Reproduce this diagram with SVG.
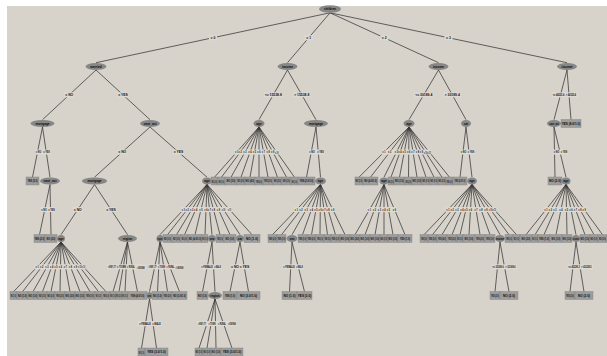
<svg xmlns="http://www.w3.org/2000/svg" width="607" height="356" viewBox="0 0 607 356">
<style>
  .bg{fill:#d7d2ca}
  .e path{fill:none;stroke:#363636;stroke-width:0.75}
  .lb{fill:#dddad3}
  .lt{font-family:"Liberation Sans",Arial,sans-serif;font-size:3.4px;font-weight:bold;text-anchor:middle;fill:#111}
  .nd ellipse{fill:#878787}
  .nd rect{fill:#9d9d9d;stroke:#828282;stroke-width:0.4}
  .nd text{font-family:"Liberation Sans",Arial,sans-serif;font-size:3.1px;font-weight:bold;text-anchor:middle;fill:#0a0a0a}
  .nd text,.lt{transform-box:fill-box;transform-origin:center}
  /* narrow boxes: smaller type, stretched back to the common cap height */
  text.s23{font-size:2.3px;transform:scaleY(1.2)}
  text.s18{font-size:1.8px;transform:scaleY(1.5)}
  text.s14{font-size:1.4px;transform:scaleY(1.9)}
  text.s12{font-size:1.2px;transform:scaleY(2.2)}
</style>
<rect width="607" height="356" fill="#ffffff"/>
<rect class="bg" x="7" y="6" width="600" height="350"/>

<!-- connectors: edge lines, then their value labels -->
<g id="connectors" class="e">
  <path d="M330 12.8L96 62.7M330 12.8L287.5 62.7M330 12.8L438.5 62.7M330 12.8L567 62.7"/>
  <path d="M96 70L42.5 119.7M96 70L150 119.7M287.5 70L259 119.7M287.5 70L316 119.7M438.5 70L409 119.7M438.5 70L466 119.7M567 70L554 119.7M567 70L571 119.7"/>
  <path d="M42.5 127L32.5 177.2M42.5 127L50 177.2M150 127L94.5 177.2M150 127L207 177.2M316 127L306.5 177.2M316 127L320.5 177.2M466 127L460 177.2M466 127L472 177.2M554 127L555 177.2M554 127L566 177.2"/>
  <path d="M259 127L214.5 177.2M259 127L221.5 177.2M259 127L231 177.2M259 127L241 177.2M259 127L250 177.2M259 127L259 177.2M259 127L268 177.2M259 127L277.5 177.2M259 127L286.5 177.2M259 127L294.5 177.2"/>
  <path d="M409 127L359 177.2M409 127L370.5 177.2M409 127L384 177.2M409 127L391 177.2M409 127L399.5 177.2M409 127L408.5 177.2M409 127L417 177.2M409 127L426 177.2M409 127L434 177.2M409 127L442 177.2M409 127L449.5 177.2"/>
  <path d="M50 184.5L39.5 234.7M50 184.5L51 234.7M94.5 184.5L61 234.7M94.5 184.5L127.5 234.7"/>
  <path d="M207 184.5L160 234.7M207 184.5L167.5 234.7M207 184.5L176.5 234.7M207 184.5L184.5 234.7M207 184.5L195 234.7M207 184.5L205 234.7M207 184.5L212 234.7M207 184.5L220 234.7M207 184.5L230 234.7M207 184.5L240 234.7M207 184.5L252 234.7"/>
  <path d="M320.5 184.5L272.5 234.7M320.5 184.5L281.5 234.7M320.5 184.5L292 234.7M320.5 184.5L302.5 234.7M320.5 184.5L311.5 234.7M320.5 184.5L320 234.7M320.5 184.5L327.5 234.7M320.5 184.5L335.5 234.7M320.5 184.5L345 234.7"/>
  <path d="M384 184.5L355 234.7M384 184.5L365 234.7M384 184.5L375 234.7M384 184.5L384 234.7M384 184.5L393 234.7M384 184.5L405 234.7"/>
  <path d="M472 184.5L424 234.7M472 184.5L432.5 234.7M472 184.5L442 234.7M472 184.5L452 234.7M472 184.5L460 234.7M472 184.5L469 234.7M472 184.5L480 234.7M472 184.5L490 234.7M472 184.5L500 234.7M472 184.5L509 234.7M472 184.5L516.5 234.7"/>
  <path d="M566 184.5L526 234.7M566 184.5L535 234.7M566 184.5L544 234.7M566 184.5L556 234.7M566 184.5L567 234.7M566 184.5L576 234.7M566 184.5L585 234.7M566 184.5L594 234.7M566 184.5L602.5 234.7"/>
  <path d="M61 242L13.5 291.7M61 242L22.5 291.7M61 242L33 291.7M61 242L42.5 291.7M61 242L51 291.7M61 242L60 291.7M61 242L70 291.7M61 242L80 291.7M61 242L90 291.7M61 242L98.5 291.7M61 242L106 291.7"/>
  <path d="M127.5 242L113 291.7M127.5 242L119 291.7M127.5 242L125 291.7M127.5 242L137.5 291.7M160 242L149.5 291.7M160 242L157.5 291.7M160 242L167.5 291.7M160 242L179.5 291.7"/>
  <path d="M212 242L202.5 291.7M212 242L215 291.7M240 242L230 291.7M240 242L248.5 291.7M292 242L289.5 291.7M292 242L304.5 291.7M500 242L495 291.7M500 242L509 291.7M576 242L570 291.7M576 242L584 291.7"/>
  <path d="M149.5 299L141.5 348.2M149.5 299L156.5 348.2M215 299L199 348.2M215 299L207 348.2M215 299L216 348.2M215 299L232 348.2"/>

  <g id="labels">
    <!-- level 1 -->
    <rect class="lb" x="209" y="35.25" width="8" height="5"/><text class="lt" x="213" y="39">= 0</text>
    <rect class="lb" x="304.75" y="35.25" width="8" height="5"/><text class="lt" x="308.75" y="39">= 1</text>
    <rect class="lb" x="380.25" y="35.25" width="8" height="5"/><text class="lt" x="384.25" y="39">= 2</text>
    <rect class="lb" x="444.5" y="35.25" width="8" height="5"/><text class="lt" x="448.5" y="39">= 3</text>
    <!-- level 2 -->
    <rect class="lb" x="64.25" y="92.35" width="10" height="5"/><text class="lt" x="69.25" y="96.1">= NO</text>
    <rect class="lb" x="117.5" y="92.35" width="11" height="5"/><text class="lt" x="123" y="96.1">= YES</text>
    <rect class="lb" x="263.75" y="92.35" width="19" height="5"/><text class="lt" x="273.25" y="96.1">&lt;= 15538.8</text>
    <rect class="lb" x="293.25" y="92.35" width="17" height="5"/><text class="lt" x="301.75" y="96.1">&gt; 15538.8</text>
    <rect class="lb" x="414.25" y="92.35" width="19" height="5"/><text class="lt" x="423.75" y="96.1">&lt;= 30189.4</text>
    <rect class="lb" x="443.75" y="92.35" width="17" height="5"/><text class="lt" x="452.25" y="96.1">&gt; 30189.4</text>
    <rect class="lb" x="552" y="92.35" width="26" height="5"/>
    <text class="lt s23" x="558.5" y="96.1">&lt;= 44525.4</text><text class="lt s23" x="571" y="96.1">&gt; 44525.4</text>
    <!-- level 3 -->
    <rect class="lb" x="35" y="149.6" width="15.5" height="5"/>
    <text class="lt s23" x="38.5" y="153.3">= NO</text><text class="lt s23" x="46.5" y="153.3">= YES</text>
    <rect class="lb" x="117.25" y="149.6" width="10" height="5"/><text class="lt" x="122.25" y="153.3">= NO</text>
    <rect class="lb" x="173" y="149.6" width="11" height="5"/><text class="lt" x="178.5" y="153.3">= YES</text>
    <rect class="lb" x="234" y="149.6" width="45" height="5"/>
    <text class="lt s23" x="236.75" y="153.3">= 1</text><text class="lt s23" x="240.25" y="153.3">= 2</text><text class="lt s23" x="245" y="153.3">= 3</text><text class="lt s23" x="250" y="153.3">= 4</text><text class="lt s23" x="254.5" y="153.3">= 5</text><text class="lt s23" x="259" y="153.3">= 6</text><text class="lt s23" x="263.5" y="153.3">= 7</text><text class="lt s23" x="268.25" y="153.3">= 8</text><text class="lt s23" x="272.75" y="153.3">= 9</text><text class="lt s18" x="276.75" y="153.3">= 10</text>
    <rect class="lb" x="308.5" y="149.6" width="16" height="5"/>
    <text class="lt s23" x="312" y="153.3">= NO</text><text class="lt s23" x="320.5" y="153.3">= YES</text>
    <rect class="lb" x="381.5" y="149.6" width="50" height="5"/>
    <text class="lt s23" x="384" y="153.3">= 1</text><text class="lt s23" x="389.75" y="153.3">= 2</text><text class="lt s23" x="396.5" y="153.3">= 3</text><text class="lt s23" x="400" y="153.3">= 4</text><text class="lt s23" x="404.25" y="153.3">= 5</text><text class="lt s23" x="408.75" y="153.3">= 6</text><text class="lt s23" x="413" y="153.3">= 7</text><text class="lt s23" x="417.5" y="153.3">= 8</text><text class="lt s23" x="421.5" y="153.3">= 9</text><text class="lt s18" x="425.5" y="153.3">= 10</text><text class="lt s18" x="429.25" y="153.3">= 11</text>
    <rect class="lb" x="460" y="149.6" width="15" height="5"/>
    <text class="lt s23" x="463.5" y="153.3">= NO</text><text class="lt s23" x="471" y="153.3">= YES</text>
    <rect class="lb" x="553" y="149.6" width="15" height="5"/>
    <text class="lt s23" x="556.5" y="153.3">= NO</text><text class="lt s23" x="564" y="153.3">= YES</text>
    <!-- level 4 -->
    <rect class="lb" x="40.5" y="207.1" width="15" height="5"/>
    <text class="lt s23" x="44" y="210.8">= NO</text><text class="lt s23" x="51.5" y="210.8">= YES</text>
    <rect class="lb" x="72.75" y="207.1" width="10" height="5"/><text class="lt" x="77.75" y="210.8">= NO</text>
    <rect class="lb" x="105.5" y="207.1" width="11" height="5"/><text class="lt" x="111" y="210.8">= YES</text>
    <rect class="lb" x="181" y="207.1" width="51" height="5"/>
    <text class="lt s23" x="183.5" y="210.8">= 1</text><text class="lt s23" x="187.25" y="210.8">= 2</text><text class="lt s23" x="191.75" y="210.8">= 3</text><text class="lt s23" x="195.75" y="210.8">= 4</text><text class="lt s23" x="201" y="210.8">= 5</text><text class="lt s23" x="206" y="210.8">= 6</text><text class="lt s23" x="209.5" y="210.8">= 7</text><text class="lt s23" x="213.5" y="210.8">= 8</text><text class="lt s23" x="218.5" y="210.8">= 9</text><text class="lt s18" x="223.5" y="210.8">= 10</text><text class="lt s18" x="229.5" y="210.8">= 11</text>
    <rect class="lb" x="294" y="207.1" width="41" height="5"/>
    <text class="lt s23" x="296.5" y="210.8">= 1</text><text class="lt s23" x="301" y="210.8">= 2</text><text class="lt s23" x="306.25" y="210.8">= 3</text><text class="lt s23" x="311.5" y="210.8">= 4</text><text class="lt s23" x="316" y="210.8">= 5</text><text class="lt s23" x="320.25" y="210.8">= 6</text><text class="lt s23" x="324" y="210.8">= 7</text><text class="lt s23" x="328" y="210.8">= 8</text><text class="lt s23" x="332.75" y="210.8">= 9</text>
    <rect class="lb" x="367" y="207.1" width="30" height="5"/>
    <text class="lt s23" x="369.5" y="210.8">= 1</text><text class="lt s23" x="374.5" y="210.8">= 2</text><text class="lt s23" x="379.5" y="210.8">= 3</text><text class="lt s23" x="384" y="210.8">= 4</text><text class="lt s23" x="388.5" y="210.8">= 5</text><text class="lt s23" x="394.5" y="210.8">= 6</text>
    <rect class="lb" x="445.5" y="207.1" width="51" height="5"/>
    <text class="lt s23" x="448" y="210.8">= 1</text><text class="lt s23" x="452.25" y="210.8">= 2</text><text class="lt s23" x="457" y="210.8">= 3</text><text class="lt s23" x="462" y="210.8">= 4</text><text class="lt s23" x="466" y="210.8">= 5</text><text class="lt s23" x="470.5" y="210.8">= 6</text><text class="lt s23" x="476" y="210.8">= 7</text><text class="lt s23" x="481" y="210.8">= 8</text><text class="lt s23" x="486" y="210.8">= 9</text><text class="lt s18" x="490.5" y="210.8">= 10</text><text class="lt s18" x="494.25" y="210.8">= 11</text>
    <rect class="lb" x="543.5" y="207.1" width="43" height="5"/>
    <text class="lt s23" x="546" y="210.8">= 1</text><text class="lt s23" x="550.5" y="210.8">= 2</text><text class="lt s23" x="555" y="210.8">= 3</text><text class="lt s23" x="561" y="210.8">= 4</text><text class="lt s23" x="566.5" y="210.8">= 5</text><text class="lt s23" x="571" y="210.8">= 6</text><text class="lt s23" x="575.5" y="210.8">= 7</text><text class="lt s23" x="580" y="210.8">= 8</text><text class="lt s23" x="584.25" y="210.8">= 9</text>
    <!-- level 5 -->
    <rect class="lb" x="34.5" y="264.35" width="51" height="5"/>
    <text class="lt s23" x="37.25" y="268.1">= 1</text><text class="lt s23" x="41.75" y="268.1">= 2</text><text class="lt s23" x="47" y="268.1">= 3</text><text class="lt s23" x="51.75" y="268.1">= 4</text><text class="lt s23" x="56" y="268.1">= 5</text><text class="lt s23" x="60.5" y="268.1">= 6</text><text class="lt s23" x="65.5" y="268.1">= 7</text><text class="lt s23" x="70.5" y="268.1">= 8</text><text class="lt s23" x="75.5" y="268.1">= 9</text><text class="lt s18" x="79.75" y="268.1">= 10</text><text class="lt s18" x="83.5" y="268.1">= 11</text>
    <rect class="lb" x="107" y="264.35" width="39" height="5"/>
    <text class="lt s12" x="112" y="268.1">= INNER_CITY</text><text class="lt s23" x="121.5" y="268.1">= TOWN</text><text class="lt s18" x="131" y="268.1">= RURAL</text><text class="lt s12" x="140.8" y="268.1">= SUBURBAN</text>
    <rect class="lb" x="147.8" y="264.35" width="36.5" height="5"/>
    <text class="lt s12" x="152.5" y="268.1">= INNER_CITY</text><text class="lt s18" x="161.5" y="268.1">= TOWN</text><text class="lt s18" x="170.5" y="268.1">= RURAL</text><text class="lt s12" x="179.5" y="268.1">= SUBURBAN</text>
    <rect class="lb" x="200.5" y="264.35" width="21.5" height="5"/>
    <text class="lt s23" x="207" y="268.1">= FEMALE</text><text class="lt s18" x="217.6" y="268.1">= MALE</text>
    <rect class="lb" x="230.5" y="264.35" width="19" height="5"/>
    <text class="lt" x="235" y="268.1">= NO</text><text class="lt" x="244.5" y="268.1">= YES</text>
    <rect class="lb" x="282.5" y="264.35" width="21.5" height="5"/>
    <text class="lt s23" x="289" y="268.1">= FEMALE</text><text class="lt s18" x="299.6" y="268.1">= MALE</text>
    <rect class="lb" x="491.5" y="264.35" width="25.5" height="5"/>
    <text class="lt s23" x="498" y="268.1">&lt;= 32369.6</text><text class="lt s23" x="510.5" y="268.1">&gt; 32369.6</text>
    <rect class="lb" x="567.5" y="264.35" width="25.5" height="5"/>
    <text class="lt s23" x="574" y="268.1">&lt;= 43228.2</text><text class="lt s23" x="586.5" y="268.1">&gt; 43228.2</text>
    <!-- level 6 -->
    <rect class="lb" x="138" y="321.1" width="23.5" height="5"/>
    <text class="lt s23" x="145" y="324.8">= FEMALE</text><text class="lt s23" x="156.5" y="324.8">= MALE</text>
    <rect class="lb" x="197" y="321.1" width="40" height="5"/>
    <text class="lt s12" x="202" y="324.8">= INNER_CITY</text><text class="lt s18" x="212" y="324.8">= TOWN</text><text class="lt s18" x="222" y="324.8">= RURAL</text><text class="lt s12" x="232" y="324.8">= SUBURBAN</text>
  </g>
</g>

<!-- tree nodes: ellipses are tests, boxes are leaves -->
<g id="nodes" class="nd">
  <g id="n0"><ellipse cx="330" cy="9" rx="11" ry="3.8"/><text x="330" y="10.1">children</text></g>

  <g id="n1"><ellipse cx="96" cy="66.5" rx="10.5" ry="3.5"/><text x="96" y="67.6">married</text></g>
  <g id="n2"><ellipse cx="287.5" cy="66.5" rx="10" ry="3.5"/><text x="287.5" y="67.6">income</text></g>
  <g id="n3"><ellipse cx="438.5" cy="66.5" rx="10" ry="3.5"/><text x="438.5" y="67.6">income</text></g>
  <g id="n4"><ellipse cx="567" cy="66.5" rx="10" ry="3.5"/><text x="567" y="67.6">income</text></g>

  <g id="n5"><ellipse cx="42.5" cy="123.5" rx="12" ry="3.5"/><text x="42.5" y="124.6">mortgage</text></g>
  <g id="n6"><ellipse cx="150" cy="123.5" rx="10" ry="3.5"/><text x="150" y="124.6">save_act</text></g>
  <g id="n7"><ellipse cx="259" cy="123.5" rx="5.5" ry="3.5"/><text x="259" y="124.6">age</text></g>
  <g id="n8"><ellipse cx="316" cy="123.5" rx="12" ry="3.5"/><text x="316" y="124.6">mortgage</text></g>
  <g id="n9"><ellipse cx="409" cy="123.5" rx="5.5" ry="3.5"/><text x="409" y="124.6">age</text></g>
  <g id="n10"><ellipse cx="466" cy="123.5" rx="5" ry="3.5"/><text x="466" y="124.6">car</text></g>
  <g id="n11"><ellipse cx="554" cy="123.5" rx="7" ry="3.5"/><text class="s23" x="554" y="124.6">save_act</text></g>
  <g id="n12"><rect x="561" y="119.5" width="20" height="8"/><text x="571" y="124.6">YES (8.0/1.0)</text></g>

  <!-- level 3 -->
  <g id="n13a"><rect x="26" y="177" width="13" height="8"/><text class="s23" x="32.5" y="182.1">YES (5.0)</text></g>
  <g id="n13"><ellipse cx="50" cy="181" rx="10" ry="3.5"/><text x="50" y="182.1">save_act</text></g>
  <g id="n14"><ellipse cx="94.5" cy="181" rx="12.5" ry="3.5"/><text x="94.5" y="182.1">mortgage</text></g>
  <g id="n15"><ellipse cx="207" cy="181" rx="5" ry="3.5"/><text x="207" y="182.1">age</text></g>
  <g id="n7a"><rect x="211" y="177" width="7" height="8"/><text class="s14" x="214.5" y="182.1">NO (3.0)</text></g>
  <g id="n7b"><rect x="218" y="177" width="7" height="8"/><text class="s14" x="221.5" y="182.1">NO (1.0)</text></g>
  <g id="n7c"><rect x="225" y="177" width="12" height="8"/><text class="s23" x="231" y="182.1">NO (3.0)</text></g>
  <g id="n7d"><rect x="237" y="177" width="8" height="8"/><text class="s18" x="241" y="182.1">NO (2.0)</text></g>
  <g id="n7e"><rect x="245" y="177" width="10" height="8"/><text class="s23" x="250" y="182.1">NO (4.0)</text></g>
  <g id="n7f"><rect x="255" y="177" width="8" height="8"/><text class="s14" x="259" y="182.1">YES (2.0)</text></g>
  <g id="n7g"><rect x="263" y="177" width="10" height="8"/><text class="s18" x="268" y="182.1">YES (3.0)</text></g>
  <g id="n7h"><rect x="273" y="177" width="9" height="8"/><text class="s18" x="277.5" y="182.1">NO (2.0)</text></g>
  <g id="n7i"><rect x="282" y="177" width="9" height="8"/><text class="s18" x="286.5" y="182.1">NO (1.0)</text></g>
  <g id="n7j"><rect x="291" y="177" width="7" height="8"/><text class="s14" x="294.5" y="182.1">NO (1.0)</text></g>
  <g id="n8a"><rect x="298" y="177" width="17" height="8"/><text class="s23" x="306.5" y="182.1">YES (2.0/1.0)</text></g>
  <g id="n16"><ellipse cx="320.5" cy="181" rx="5.5" ry="3.5"/><text x="320.5" y="182.1">age</text></g>
  <g id="n9a"><rect x="355" y="177" width="8" height="8"/><text class="s18" x="359" y="182.1">NO (1.0)</text></g>
  <g id="n9b"><rect x="363" y="177" width="15" height="8"/><text class="s23" x="370.5" y="182.1">NO (4.0/1.0)</text></g>
  <g id="n17"><ellipse cx="384" cy="181" rx="4.5" ry="3.5"/><text x="384" y="182.1">age</text></g>
  <g id="n9c"><rect x="388" y="177" width="6" height="8"/><text class="s14" x="391" y="182.1">NO (2.0)</text></g>
  <g id="n9d"><rect x="394" y="177" width="11" height="8"/><text class="s23" x="399.5" y="182.1">NO (1.0)</text></g>
  <g id="n9e"><rect x="405" y="177" width="7" height="8"/><text class="s14" x="408.5" y="182.1">NO (2.0)</text></g>
  <g id="n9f"><rect x="412" y="177" width="10" height="8"/><text class="s23" x="417" y="182.1">NO (1.0)</text></g>
  <g id="n9g"><rect x="422" y="177" width="8" height="8"/><text class="s18" x="426" y="182.1">NO (1.0)</text></g>
  <g id="n9h"><rect x="430" y="177" width="8" height="8"/><text class="s18" x="434" y="182.1">NO (1.0)</text></g>
  <g id="n9i"><rect x="438" y="177" width="8" height="8"/><text class="s18" x="442" y="182.1">NO (3.0)</text></g>
  <g id="n9j"><rect x="446" y="177" width="7" height="8"/><text class="s14" x="449.5" y="182.1">YES (1.0)</text></g>
  <g id="n10a"><rect x="453" y="177" width="14" height="8"/><text class="s18" x="460" y="182.1">YES (2.0/1.0)</text></g>
  <g id="n18"><ellipse cx="472" cy="181" rx="5" ry="3.5"/><text x="472" y="182.1">age</text></g>
  <g id="n11a"><rect x="548" y="177" width="14" height="8"/><text x="555" y="182.1">NO (2.0)</text></g>
  <g id="n19"><ellipse cx="566" cy="181" rx="4.5" ry="3.5"/><text x="566" y="182.1">age</text></g>

  <!-- level 4 -->
  <g id="n13b"><rect x="34" y="234.5" width="11" height="8"/><text class="s23" x="39.5" y="239.6">YES (2.0)</text></g>
  <g id="n13c"><rect x="45" y="234.5" width="12" height="8"/><text class="s23" x="51" y="239.6">NO (2.0)</text></g>
  <g id="n20"><ellipse cx="61" cy="238.5" rx="4" ry="3.5"/><text x="61" y="239.6">age</text></g>
  <g id="n21"><ellipse cx="127.5" cy="238.5" rx="9.5" ry="3.5"/><text x="127.5" y="239.6">region</text></g>
  <g id="n22"><ellipse cx="160" cy="238.5" rx="3.5" ry="3.5"/><text class="s18" x="160" y="239.6">region</text></g>
  <g id="n15a"><rect x="163" y="234.5" width="9" height="8"/><text class="s18" x="167.5" y="239.6">NO (1.0)</text></g>
  <g id="n15b"><rect x="172" y="234.5" width="9" height="8"/><text class="s18" x="176.5" y="239.6">NO (1.0)</text></g>
  <g id="n15c"><rect x="181" y="234.5" width="7" height="8"/><text class="s14" x="184.5" y="239.6">NO (2.0)</text></g>
  <g id="n15d"><rect x="188" y="234.5" width="14" height="8"/><text class="s23" x="195" y="239.6">NO (4.0/1.0)</text></g>
  <g id="n15e"><rect x="202" y="234.5" width="6" height="8"/><text class="s14" x="205" y="239.6">NO (1.0)</text></g>
  <g id="n23"><ellipse cx="212" cy="238.5" rx="4" ry="3.5"/><text x="212" y="239.6">sex</text></g>
  <g id="n15f"><rect x="216" y="234.5" width="8" height="8"/><text class="s14" x="220" y="239.6">YES (1.0)</text></g>
  <g id="n15g"><rect x="224" y="234.5" width="12" height="8"/><text class="s23" x="230" y="239.6">NO (1.0)</text></g>
  <g id="n24"><ellipse cx="240" cy="238.5" rx="4" ry="3.5"/><text x="240" y="239.6">car</text></g>
  <g id="n15h"><rect x="244" y="234.5" width="16" height="8"/><text x="252" y="239.6">NO (1.0)</text></g>
  <g id="n16a"><rect x="268" y="234.5" width="9" height="8"/><text class="s18" x="272.5" y="239.6">YES (2.0)</text></g>
  <g id="n16b"><rect x="277" y="234.5" width="9" height="8"/><text class="s18" x="281.5" y="239.6">YES (1.0)</text></g>
  <g id="n25"><ellipse cx="292" cy="238.5" rx="5.5" ry="3.5"/><text x="292" y="239.6">sex</text></g>
  <g id="n16c"><rect x="298" y="234.5" width="9" height="8"/><text class="s18" x="302.5" y="239.6">YES (1.0)</text></g>
  <g id="n16d"><rect x="307" y="234.5" width="9" height="8"/><text class="s18" x="311.5" y="239.6">YES (2.0)</text></g>
  <g id="n16e"><rect x="316" y="234.5" width="8" height="8"/><text class="s14" x="320" y="239.6">YES (1.0)</text></g>
  <g id="n16f"><rect x="324" y="234.5" width="7" height="8"/><text class="s14" x="327.5" y="239.6">YES (3.0)</text></g>
  <g id="n16g"><rect x="331" y="234.5" width="9" height="8"/><text class="s18" x="335.5" y="239.6">YES (1.0)</text></g>
  <g id="n16h"><rect x="340" y="234.5" width="10" height="8"/><text class="s23" x="345" y="239.6">NO (1.0)</text></g>
  <g id="n17a"><rect x="350" y="234.5" width="10" height="8"/><text class="s23" x="355" y="239.6">NO (2.0)</text></g>
  <g id="n17b"><rect x="360" y="234.5" width="10" height="8"/><text class="s23" x="365" y="239.6">NO (1.0)</text></g>
  <g id="n17c"><rect x="370" y="234.5" width="10" height="8"/><text class="s23" x="375" y="239.6">NO (1.0)</text></g>
  <g id="n17d"><rect x="380" y="234.5" width="8" height="8"/><text class="s18" x="384" y="239.6">NO (1.0)</text></g>
  <g id="n17e"><rect x="388" y="234.5" width="10" height="8"/><text class="s23" x="393" y="239.6">NO (1.0)</text></g>
  <g id="n17f"><rect x="398" y="234.5" width="14" height="8"/><text class="s23" x="405" y="239.6">YES (1.0)</text></g>
  <g id="n18a"><rect x="420" y="234.5" width="8" height="8"/><text class="s14" x="424" y="239.6">YES (3.0)</text></g>
  <g id="n18b"><rect x="428" y="234.5" width="9" height="8"/><text class="s18" x="432.5" y="239.6">YES (2.0)</text></g>
  <g id="n18c"><rect x="437" y="234.5" width="10" height="8"/><text class="s18" x="442" y="239.6">YES (4.0)</text></g>
  <g id="n18d"><rect x="447" y="234.5" width="10" height="8"/><text class="s18" x="452" y="239.6">YES (2.0)</text></g>
  <g id="n18e"><rect x="457" y="234.5" width="6" height="8"/><text class="s14" x="460" y="239.6">NO (1.0)</text></g>
  <g id="n18f"><rect x="463" y="234.5" width="12" height="8"/><text class="s23" x="469" y="239.6">NO (1.0)</text></g>
  <g id="n18g"><rect x="475" y="234.5" width="10" height="8"/><text class="s18" x="480" y="239.6">YES (2.0)</text></g>
  <g id="n18h"><rect x="485" y="234.5" width="10" height="8"/><text class="s18" x="490" y="239.6">YES (1.0)</text></g>
  <g id="n26"><ellipse cx="500" cy="238.5" rx="5" ry="3.5"/><text class="s23" x="500" y="239.6">income</text></g>
  <g id="n18i"><rect x="505" y="234.5" width="8" height="8"/><text class="s14" x="509" y="239.6">YES (1.0)</text></g>
  <g id="n18j"><rect x="513" y="234.5" width="7" height="8"/><text class="s14" x="516.5" y="239.6">NO (1.0)</text></g>
  <g id="n19a"><rect x="520" y="234.5" width="12" height="8"/><text class="s23" x="526" y="239.6">NO (3.0)</text></g>
  <g id="n19b"><rect x="532" y="234.5" width="6" height="8"/><text class="s14" x="535" y="239.6">NO (1.0)</text></g>
  <g id="n19c"><rect x="538" y="234.5" width="12" height="8"/><text class="s23" x="544" y="239.6">YES (1.0)</text></g>
  <g id="n19d"><rect x="550" y="234.5" width="12" height="8"/><text class="s23" x="556" y="239.6">NO (1.0)</text></g>
  <g id="n19e"><rect x="562" y="234.5" width="10" height="8"/><text class="s23" x="567" y="239.6">NO (1.0)</text></g>
  <g id="n27"><ellipse cx="576" cy="238.5" rx="4" ry="3.5"/><text class="s18" x="576" y="239.6">income</text></g>
  <g id="n19f"><rect x="580" y="234.5" width="10" height="8"/><text class="s23" x="585" y="239.6">NO (1.0)</text></g>
  <g id="n19g"><rect x="590" y="234.5" width="8" height="8"/><text class="s18" x="594" y="239.6">NO (1.0)</text></g>
  <g id="n19h"><rect x="598" y="234.5" width="9" height="8"/><text class="s18" x="602.5" y="239.6">NO (2.0)</text></g>

  <!-- level 5 -->
  <g id="n20a"><rect x="10" y="291.5" width="7" height="8"/><text class="s14" x="13.5" y="296.6">NO (1.0)</text></g>
  <g id="n20b"><rect x="17" y="291.5" width="11" height="8"/><text class="s23" x="22.5" y="296.6">NO (1.0)</text></g>
  <g id="n20c"><rect x="28" y="291.5" width="10" height="8"/><text class="s23" x="33" y="296.6">NO (1.0)</text></g>
  <g id="n20d"><rect x="38" y="291.5" width="9" height="8"/><text class="s18" x="42.5" y="296.6">NO (1.0)</text></g>
  <g id="n20e"><rect x="47" y="291.5" width="8" height="8"/><text class="s18" x="51" y="296.6">NO (2.0)</text></g>
  <g id="n20f"><rect x="55" y="291.5" width="10" height="8"/><text class="s18" x="60" y="296.6">YES (2.0)</text></g>
  <g id="n20g"><rect x="65" y="291.5" width="10" height="8"/><text class="s23" x="70" y="296.6">NO (2.0)</text></g>
  <g id="n20h"><rect x="75" y="291.5" width="10" height="8"/><text class="s23" x="80" y="296.6">NO (1.0)</text></g>
  <g id="n20i"><rect x="85" y="291.5" width="10" height="8"/><text class="s18" x="90" y="296.6">YES (1.0)</text></g>
  <g id="n20j"><rect x="95" y="291.5" width="7" height="8"/><text class="s14" x="98.5" y="296.6">NO (1.0)</text></g>
  <g id="n20k"><rect x="102" y="291.5" width="8" height="8"/><text class="s14" x="106" y="296.6">YES (1.0)</text></g>
  <g id="n21a"><rect x="110" y="291.5" width="6" height="8"/><text class="s14" x="113" y="296.6">NO (1.0)</text></g>
  <g id="n21b"><rect x="116" y="291.5" width="6" height="8"/><text class="s14" x="119" y="296.6">NO (2.0)</text></g>
  <g id="n21c"><rect x="122" y="291.5" width="6" height="8"/><text class="s14" x="125" y="296.6">NO (1.0)</text></g>
  <g id="n21d"><rect x="128" y="291.5" width="19" height="8"/><text class="s23" x="137.5" y="296.6">YES (4.0/1.0)</text></g>
  <g id="n28"><ellipse cx="149.5" cy="295.5" rx="3" ry="3.5"/><text class="s23" x="149.5" y="296.6">sex</text></g>
  <g id="n22a"><rect x="152" y="291.5" width="11" height="8"/><text class="s23" x="157.5" y="296.6">NO (1.0)</text></g>
  <g id="n22b"><rect x="163" y="291.5" width="9" height="8"/><text class="s18" x="167.5" y="296.6">YES (2.0)</text></g>
  <g id="n22c"><rect x="172" y="291.5" width="15" height="8"/><text class="s23" x="179.5" y="296.6">NO (3.0/1.0)</text></g>
  <g id="n23a"><rect x="197" y="291.5" width="11" height="8"/><text class="s23" x="202.5" y="296.6">NO (1.0)</text></g>
  <g id="n29"><ellipse cx="215" cy="295.5" rx="7" ry="3.5"/><text x="215" y="296.6">region</text></g>
  <g id="n24a"><rect x="223" y="291.5" width="14" height="8"/><text class="s23" x="230" y="296.6">YES (1.0)</text></g>
  <g id="n24b"><rect x="237" y="291.5" width="23" height="8"/><text x="248.5" y="296.6">NO (3.0/1.0)</text></g>
  <g id="n25a"><rect x="282" y="291.5" width="15" height="8"/><text x="289.5" y="296.6">NO (1.0)</text></g>
  <g id="n25b"><rect x="297" y="291.5" width="15" height="8"/><text x="304.5" y="296.6">YES (3.0)</text></g>
  <g id="n26a"><rect x="490" y="291.5" width="10" height="8"/><text class="s18" x="495" y="296.6">YES (2.0)</text></g>
  <g id="n26b"><rect x="500" y="291.5" width="18" height="8"/><text x="509" y="296.6">NO (2.0)</text></g>
  <g id="n27a"><rect x="565" y="291.5" width="10" height="8"/><text class="s18" x="570" y="296.6">YES (2.0)</text></g>
  <g id="n27b"><rect x="575" y="291.5" width="18" height="8"/><text x="584" y="296.6">NO (2.0)</text></g>

  <!-- level 6 -->
  <g id="n28a"><rect x="138" y="348" width="7" height="8"/><text class="s14" x="141.5" y="353.1">NO (1.0)</text></g>
  <g id="n28b"><rect x="145" y="348" width="23" height="8"/><text x="156.5" y="353.1">YES (3.0/1.0)</text></g>
  <g id="n29a"><rect x="195" y="348" width="8" height="8"/><text class="s18" x="199" y="353.1">NO (1.0)</text></g>
  <g id="n29b"><rect x="203" y="348" width="8" height="8"/><text class="s18" x="207" y="353.1">NO (1.0)</text></g>
  <g id="n29c"><rect x="211" y="348" width="10" height="8"/><text class="s23" x="216" y="353.1">NO (1.0)</text></g>
  <g id="n29d"><rect x="221" y="348" width="22" height="8"/><text x="232" y="353.1">YES (3.0/1.0)</text></g>
</g>
</svg>
